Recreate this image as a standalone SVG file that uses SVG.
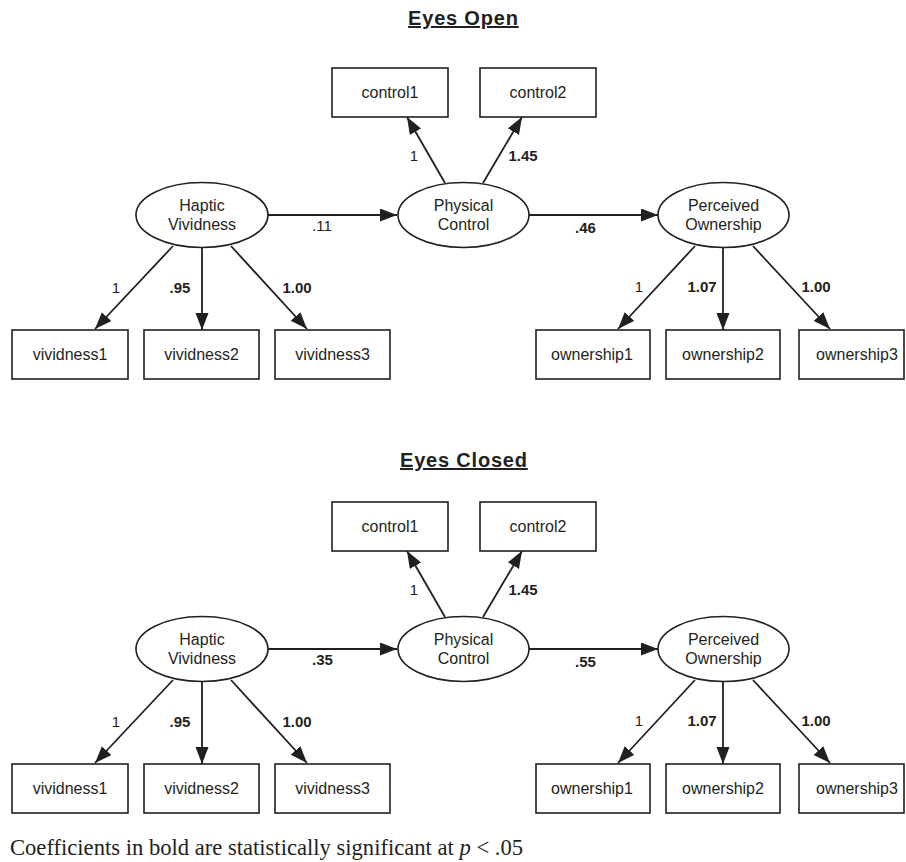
<svg xmlns="http://www.w3.org/2000/svg" width="906" height="862" viewBox="0 0 906 862">
<style>
.box{fill:#fff;stroke:#231f20;stroke-width:1.6}
.ell{fill:#fff;stroke:#231f20;stroke-width:1.6}
.lbl{font-family:"Liberation Sans",Arial,sans-serif;font-size:16px;fill:#231f20;text-anchor:middle}
.c{font-family:"Liberation Sans",Arial,sans-serif;font-size:15px;fill:#231f20;text-anchor:middle}
.b{font-weight:bold}
.title{font-family:"Liberation Sans",Arial,sans-serif;font-size:20px;font-weight:bold;fill:#231f20;text-anchor:middle;letter-spacing:0.8px;text-decoration:underline}
.edge{stroke:#231f20;stroke-width:1.8;fill:none;marker-end:url(#ah)}
.foot{font-family:"Liberation Serif","Times New Roman",serif;font-size:22.6px;fill:#231f20}
</style>
<defs>
<marker id="ah" markerUnits="userSpaceOnUse" markerWidth="18" markerHeight="14" refX="17" refY="6.5" orient="auto">
<path d="M0,0 L17,6.5 L0,13 z" fill="#231f20"/>
</marker>
<g id="model">
<g class="connectors">
<line class="edge" x1="268" y1="215" x2="397" y2="215"/>
<line class="edge" x1="529" y1="215" x2="658" y2="215"/>
<line class="edge" x1="445" y1="183" x2="407" y2="117"/>
<line class="edge" x1="483" y1="183" x2="522" y2="117"/>
<line class="edge" x1="173" y1="246" x2="95" y2="329"/>
<line class="edge" x1="202" y1="248" x2="202" y2="330"/>
<line class="edge" x1="231" y1="246" x2="307" y2="329"/>
<line class="edge" x1="695" y1="246" x2="618" y2="329"/>
<line class="edge" x1="723" y1="248" x2="723" y2="330"/>
<line class="edge" x1="753" y1="246" x2="830" y2="329"/>
</g>
<g class="cl">
<text class="c" x="414" y="161">1</text>
<text class="c b" x="523" y="161">1.45</text>
<text class="c" x="116" y="293">1</text>
<text class="c b" x="180" y="293">.95</text>
<text class="c b" x="297" y="293">1.00</text>
<text class="c" x="639" y="292">1</text>
<text class="c b" x="702" y="292">1.07</text>
<text class="c b" x="816" y="292">1.00</text>
</g>
<g id="haptic"><ellipse class="ell" cx="202" cy="215" rx="66" ry="32.5"/><text class="lbl" x="202" y="211">Haptic</text><text class="lbl" x="202" y="230">Vividness</text></g>
<g id="physical"><ellipse class="ell" cx="463.5" cy="215" rx="65.5" ry="32.5"/><text class="lbl" x="463.5" y="211">Physical</text><text class="lbl" x="463.5" y="230">Control</text></g>
<g id="perceived"><ellipse class="ell" cx="723.5" cy="215" rx="65.5" ry="32.5"/><text class="lbl" x="723.5" y="211">Perceived</text><text class="lbl" x="723.5" y="230">Ownership</text></g>
<g id="control1"><rect class="box" x="332" y="68" width="116" height="49"/><text class="lbl" x="390" y="98">control1</text></g>
<g id="control2"><rect class="box" x="480" y="68" width="116" height="49"/><text class="lbl" x="538" y="98">control2</text></g>
<g id="vividness1"><rect class="box" x="12" y="330" width="116" height="49"/><text class="lbl" x="70" y="360">vividness1</text></g>
<g id="vividness2"><rect class="box" x="144" y="330" width="115" height="49"/><text class="lbl" x="201.5" y="360">vividness2</text></g>
<g id="vividness3"><rect class="box" x="275" y="330" width="115" height="49"/><text class="lbl" x="332.5" y="360">vividness3</text></g>
<g id="ownership1"><rect class="box" x="536" y="330" width="114" height="49"/><text class="lbl" x="592" y="360">ownership1</text></g>
<g id="ownership2"><rect class="box" x="666" y="330" width="114" height="49"/><text class="lbl" x="723" y="360">ownership2</text></g>
<g id="ownership3"><rect class="box" x="799" y="330" width="105" height="49"/><text class="lbl" x="857" y="360">ownership3</text></g>
</g>
</defs>
<rect width="906" height="862" fill="#fff"/>
<text class="title" x="463.4" y="25">Eyes Open</text>
<g id="eyes-open">
<use href="#model"/>
<text class="c" x="322" y="231">.11</text>
<text class="c b" x="585.5" y="233">.46</text>
</g>
<text class="title" x="463.9" y="467">Eyes Closed</text>
<g id="eyes-closed" transform="translate(0,434)">
<use href="#model"/>
<text class="c b" x="322.5" y="231">.35</text>
<text class="c b" x="585.5" y="233">.55</text>
</g>
<text class="foot" x="10" y="855">Coefficients in bold are statistically significant at <tspan font-style="italic">p</tspan> &lt; .05</text>
</svg>
